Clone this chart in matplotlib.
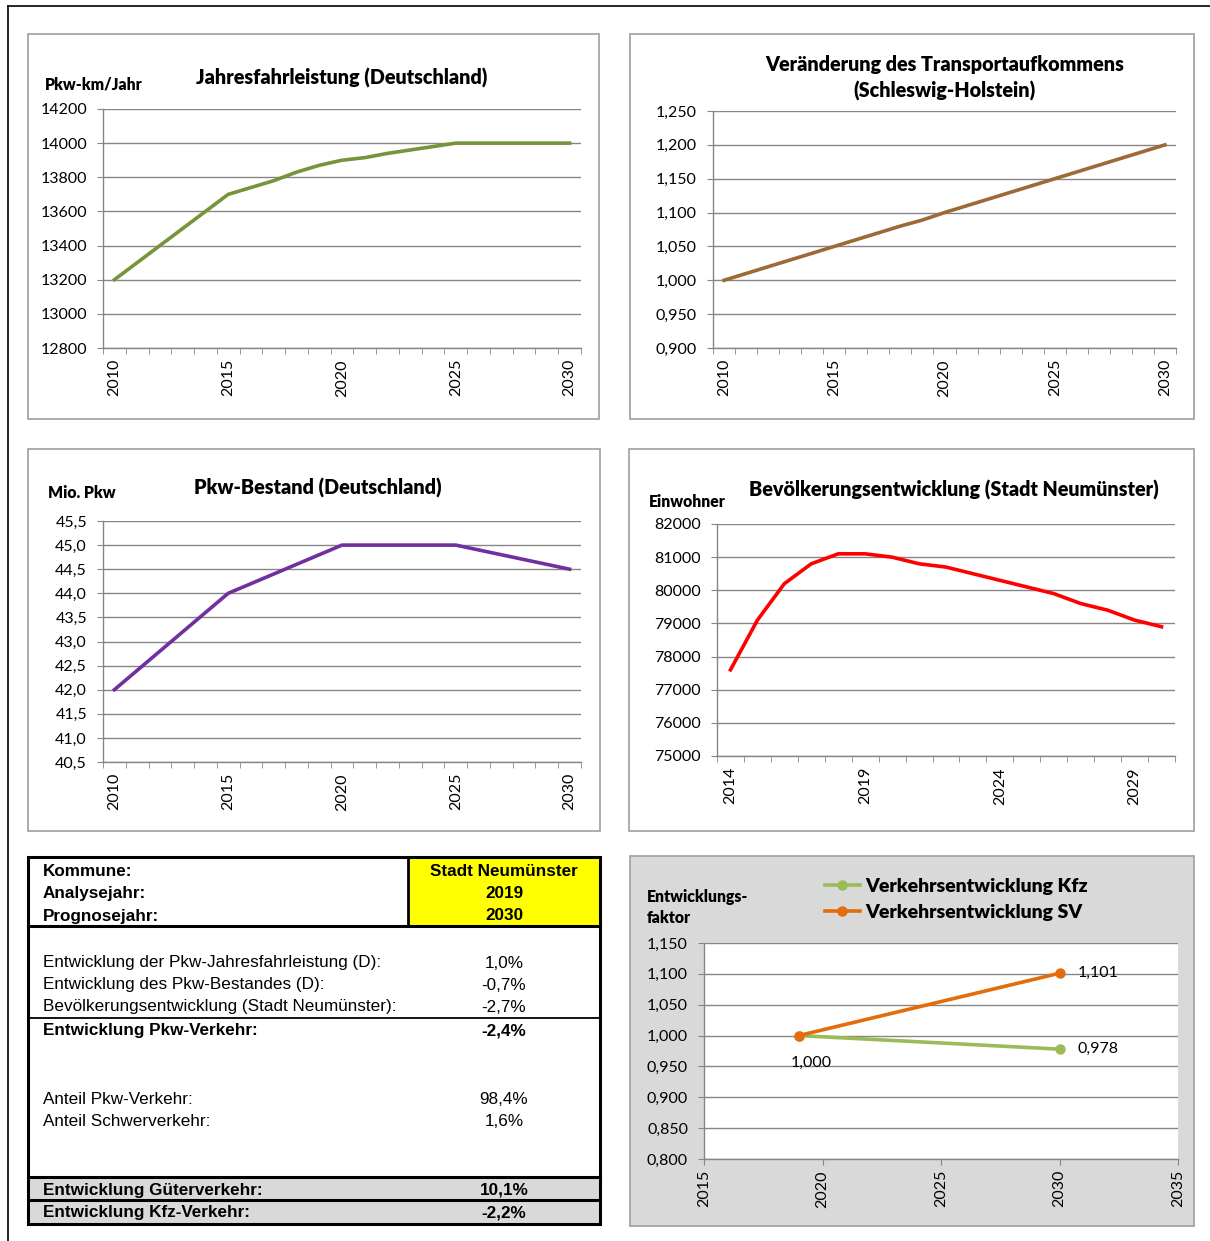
import numpy as np
import matplotlib
matplotlib.use("Agg")
import matplotlib.pyplot as plt
from matplotlib.patches import Rectangle
from matplotlib.ticker import FuncFormatter, FixedLocator

# ---- data ----
years_a = list(range(2010, 2031))
fahrleistung = [13200, 13300, 13400, 13500, 13600, 13700, 13740, 13780, 13830, 13870,
                13900, 13915, 13940, 13960, 13980, 14000, 14000, 14000, 14000, 14000, 14000]
transport = [1.000, 1.010, 1.020, 1.030, 1.040, 1.050, 1.060, 1.070, 1.080, 1.089,
             1.100, 1.110, 1.120, 1.130, 1.140, 1.150, 1.160, 1.170, 1.180, 1.190, 1.200]
bestand = [42.0, 42.4, 42.8, 43.2, 43.6, 44.0, 44.2, 44.4, 44.6, 44.8,
           45.0, 45.0, 45.0, 45.0, 45.0, 45.0, 44.9, 44.8, 44.7, 44.6, 44.5]

years_b = list(range(2014, 2031))
einwohner = [77600, 79100, 80200, 80800, 81100, 81100, 81000, 80800, 80700, 80500,
             80300, 80100, 79900, 79600, 79400, 79100, 78900]

years_vk = [2019, 2030]
vk_kfz = [1.000, 0.978]
vk_sv = [1.000, 1.101]

table_head = ["Kommune:", "Analysejahr:", "Prognosejahr:"]
table_head_val = ["Stadt Neumünster", "2019", "2030"]
table_rows = ["Entwicklung der Pkw-Jahresfahrleistung (D):",
              "Entwicklung des Pkw-Bestandes (D):",
              "Bevölkerungsentwicklung (Stadt Neumünster):"]
table_row_val = ["1,0%", "-0,7%", "-2,7%"]
table_anteil = ["Anteil Pkw-Verkehr:", "Anteil Schwerverkehr:"]
table_anteil_val = ["98,4%", "1,6%"]

W, H = 1210, 1241
CF = "Lato"              # chart font (Calibri-like)
TF = "Liberation Sans"   # table font (Arial-like)
GRID = "#868686"
TW = "heavy"             # title weight
TSZ = 14.2               # title size
ASZ = 11.3               # axis title size
LW = 2.6

fig = plt.figure(figsize=(W / 100, H / 100), dpi=100)


def rect(x0, y0, x1, y1):
    return [x0 / W, 1 - y1 / H, (x1 - x0) / W, (y1 - y0) / H]


bg = fig.add_axes([0, 0, 1, 1], zorder=0)
bg.set_xlim(0, W)
bg.set_ylim(H, 0)
bg.axis("off")

# outer frame (top + left only)
bg.plot([8, W], [6, 6], color="black", lw=1.2)
bg.plot([8, 8], [6, H], color="black", lw=1.2)

# chart frames
for (x0, y0, x1, y1, fc) in [(28, 34, 599, 419, "white"), (630, 34, 1194, 419, "white"),
                             (28, 449, 600, 831, "white"), (629, 449, 1194, 831, "white"),
                             (630, 856, 1194, 1226, "#d9d9d9")]:
    bg.add_patch(Rectangle((x0, y0), x1 - x0, y1 - y0, fc=fc, ec="#a6a6a6", lw=1.3))


def comma(dec):
    return FuncFormatter(lambda v, p: f"{v:.{dec}f}".replace(".", ","))


def style(ax, ylo, yhi, ystep, dec):
    ax.set_ylim(ylo, yhi)
    ax.set_yticks(np.arange(ylo, yhi + ystep / 2, ystep))
    ax.yaxis.set_major_formatter(comma(dec))
    ax.yaxis.grid(True, color=GRID, lw=1.0)
    ax.set_axisbelow(True)
    for s in ["top", "right"]:
        ax.spines[s].set_visible(False)
    for s in ["left", "bottom"]:
        ax.spines[s].set_color(GRID)
        ax.spines[s].set_linewidth(1.0)
    ax.tick_params(axis="y", direction="out", length=4, color=GRID, pad=7.5,
                   labelsize=11.5)
    ax.tick_params(axis="x", which="major", length=0, pad=8, labelsize=11.5,
                   labelrotation=90)
    ax.tick_params(axis="x", which="minor", direction="out", length=4, color=GRID)
    for lab in ax.get_xticklabels() + ax.get_yticklabels():
        lab.set_family(CF)


def category_x(ax, years, labels):
    ax.set_xlim(years[0] - 0.5, years[-1] + 0.5)
    ax.xaxis.set_major_locator(FixedLocator(labels))
    ax.xaxis.set_minor_locator(FixedLocator(np.arange(years[0] - 0.5, years[-1] + 1, 1)))
    ax.set_xticklabels([str(y) for y in labels], family=CF)


def title(x, y, s):
    bg.text(x, y, s, ha="center", va="center", family=CF, weight=TW, size=TSZ)


def ytitle(x, y, s):
    bg.text(x, y, s, ha="left", va="center", family=CF, weight=TW, size=ASZ)


# chart 1
ax1 = fig.add_axes(rect(103, 109, 581, 348), zorder=1)
ax1.patch.set_alpha(0)
ax1.plot(years_a, fahrleistung, color="#77933c", lw=LW)
category_x(ax1, years_a, [2010, 2015, 2020, 2025, 2030])
style(ax1, 12800, 14200, 200, 0)
title(342, 78, "Jahresfahrleistung (Deutschland)")
ytitle(45, 84, "Pkw-km/Jahr")

# chart 2
ax2 = fig.add_axes(rect(713, 111, 1176, 348), zorder=1)
ax2.patch.set_alpha(0)
ax2.plot(years_a, transport, color="#9b6a35", lw=LW)
category_x(ax2, years_a, [2010, 2015, 2020, 2025, 2030])
style(ax2, 0.9, 1.25, 0.05, 3)
title(945, 64, "Veränderung des Transportaufkommens")
title(945, 91, "(Schleswig-Holstein)")

# chart 3
ax3 = fig.add_axes(rect(103, 521, 581, 762), zorder=1)
ax3.patch.set_alpha(0)
ax3.plot(years_a, bestand, color="#7030a0", lw=LW)
category_x(ax3, years_a, [2010, 2015, 2020, 2025, 2030])
style(ax3, 40.5, 45.5, 0.5, 1)
title(318, 488, "Pkw-Bestand (Deutschland)")
ytitle(48, 493, "Mio. Pkw")

# chart 4
ax4 = fig.add_axes(rect(717, 524, 1175, 756), zorder=1)
ax4.patch.set_alpha(0)
ax4.plot(years_b, einwohner, color="#ff0000", lw=LW)
category_x(ax4, years_b, [2014, 2019, 2024, 2029])
style(ax4, 75000, 82000, 1000, 0)
title(954, 490, "Bevölkerungsentwicklung (Stadt Neumünster)")
ytitle(649, 502, "Einwohner")

# chart 6 (Verkehrsentwicklung)
ax6 = fig.add_axes(rect(704, 943, 1178, 1159), zorder=1)
ax6.set_facecolor("white")
l_kfz, = ax6.plot(years_vk, vk_kfz, color="#9bbb59", lw=LW, marker="o", ms=6.5,
                  label="Verkehrsentwicklung Kfz")
l_sv, = ax6.plot(years_vk, vk_sv, color="#e46c0a", lw=LW, marker="o", ms=6.5,
                 label="Verkehrsentwicklung SV")
ax6.set_xlim(2015, 2035)
ax6.set_xticks([2015, 2020, 2025, 2030, 2035])
style(ax6, 0.8, 1.15, 0.05, 3)
ax6.tick_params(axis="x", which="major", direction="out", length=4, color=GRID, pad=4)
for lab in ax6.get_xticklabels():
    lab.set_family(CF)
for xv, yv, dx, dy, ha in [(years_vk[1], vk_sv[1], 13, 0, "left"),
                           (years_vk[1], vk_kfz[1], 13, 0, "left"),
                           (years_vk[0], vk_sv[0], 9, -20, "center")]:
    ax6.annotate(f"{yv:.3f}".replace(".", ","), (xv, yv), xytext=(dx, dy),
                 textcoords="offset points", va="center", ha=ha, family=CF, size=11.5)
ax6.legend(handles=[l_kfz, l_sv], loc="upper left", frameon=False,
           bbox_to_anchor=(825 / W, 1 - 878 / H), bbox_transform=fig.transFigure,
           prop={"family": CF, "weight": TW, "size": 14},
           handlelength=1.8, handletextpad=0.25, labelspacing=0.45, borderpad=0,
           borderaxespad=0)
ytitle(647, 897, "Entwicklungs-")
ytitle(647, 918, "faktor")

# table
TX0, TX1, TXV = 28, 600, 408
bg.add_patch(Rectangle((TXV, 857), TX1 - TXV, 926 - 857, fc="yellow", ec="none"))
bg.add_patch(Rectangle((TX0, 1177), TX1 - TX0, 1224 - 1177, fc="#d9d9d9", ec="none"))
bg.add_patch(Rectangle((TX0, 857), TX1 - TX0, 1224 - 857, fc="none", ec="black", lw=2.2))
bg.plot([TXV, TXV], [857, 926], color="black", lw=2.0)
bg.plot([TX0, TX1], [926, 926], color="black", lw=2.2)
bg.plot([TX0, TX1], [1018, 1018], color="black", lw=1.3)
bg.plot([TX0, TX1], [1177, 1177], color="black", lw=2.2)
bg.plot([TX0, TX1], [1200, 1200], color="black", lw=2.2)

TS = 12.3
for i, (t, v) in enumerate(zip(table_head, table_head_val)):
    y = 871 + i * 22.5
    bg.text(43, y, t, ha="left", va="center", family=TF, weight="bold", size=TS)
    bg.text(504, y, v, ha="center", va="center", family=TF, weight="bold", size=TS)
for i, (t, v) in enumerate(zip(table_rows, table_row_val)):
    y = 963 + i * 22
    bg.text(43, y, t, ha="left", va="center", family=TF, size=TS)
    bg.text(504, y, v, ha="center", va="center", family=TF, size=TS)
bg.text(43, 1031, "Entwicklung Pkw-Verkehr:", ha="left", va="center", family=TF,
        weight="bold", size=TS)
bg.text(504, 1031, "-2,4%", ha="center", va="center", family=TF, weight="bold", size=TS)
for i, (t, v) in enumerate(zip(table_anteil, table_anteil_val)):
    y = 1099 + i * 22
    bg.text(43, y, t, ha="left", va="center", family=TF, size=TS)
    bg.text(504, y, v, ha="center", va="center", family=TF, size=TS)
bg.text(43, 1190, "Entwicklung Güterverkehr:", ha="left", va="center", family=TF,
        weight="bold", size=TS)
bg.text(504, 1190, "10,1%", ha="center", va="center", family=TF, weight="bold", size=TS)
bg.text(43, 1213, "Entwicklung Kfz-Verkehr:", ha="left", va="center", family=TF,
        weight="bold", size=TS)
bg.text(504, 1213, "-2,2%", ha="center", va="center", family=TF, weight="bold", size=TS)

fig.savefig("out.png", dpi=100)
